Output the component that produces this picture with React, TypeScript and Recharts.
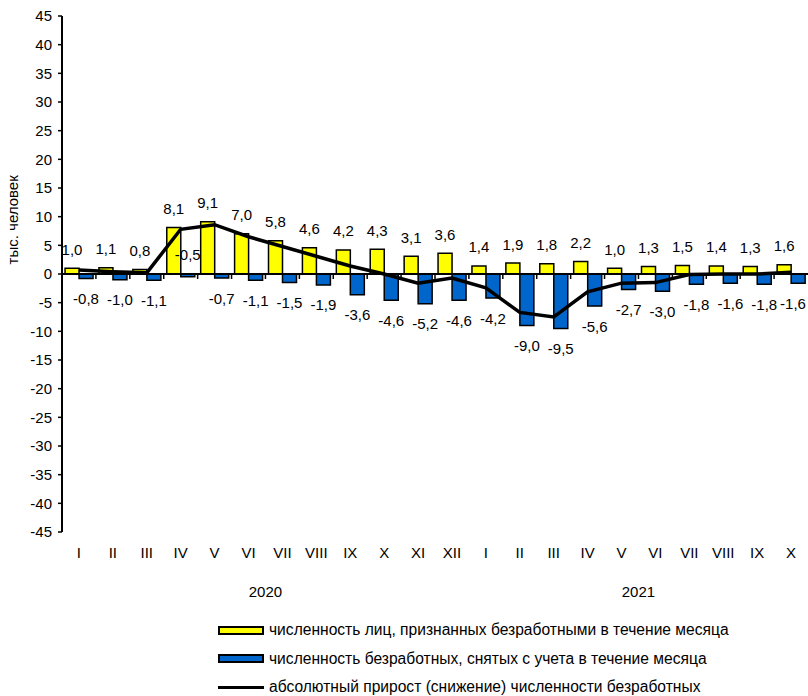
import React from 'react';
import { ComposedChart, Bar, Line, XAxis, YAxis, ReferenceLine, LabelList } from 'recharts';

const months = ['I', 'II', 'III', 'IV', 'V', 'VI', 'VII', 'VIII', 'IX', 'X', 'XI', 'XII',
  'I', 'II', 'III', 'IV', 'V', 'VI', 'VII', 'VIII', 'IX', 'X'];
const years = ['2020', '2020', '2020', '2020', '2020', '2020', '2020', '2020', '2020', '2020', '2020', '2020',
  '2021', '2021', '2021', '2021', '2021', '2021', '2021', '2021', '2021', '2021'];

// признаны безработными за месяц, тыс. чел.
const registered = [1.0, 1.1, 0.8, 8.1, 9.1, 7.0, 5.8, 4.6, 4.2, 4.3, 3.1, 3.6,
  1.4, 1.9, 1.8, 2.2, 1.0, 1.3, 1.5, 1.4, 1.3, 1.6];
const removed = [-0.8, -1.0, -1.1, -0.5, -0.7, -1.1, -1.5, -1.9, -3.6, -4.6, -5.2, -4.6,
  -4.2, -9.0, -9.5, -5.6, -2.7, -3.0, -1.8, -1.6, -1.8, -1.6];
// абсолютный прирост
const netChange = [0.7, 0.4, 0.2, 7.8, 8.6, 6.5, 4.8, 3.1, 1.4, 0.0, -1.6, -0.7,
  -2.4, -6.7, -7.5, -3.1, -1.6, -1.5, -0.1, 0.0, 0.0, 0.3];

const yTicks = [-45, -40, -35, -30, -25, -20, -15, -10, -5, 0, 5, 10, 15, 20, 25, 30, 35, 40, 45];

const legendItems = [
  { label: 'численность лиц, признанных безработными в течение месяца', kind: 'bar', color: '#FFFF00' },
  { label: 'численность безработных, снятых с учета в течение месяца', kind: 'bar', color: '#0066CC' },
  { label: 'абсолютный прирост (снижение) численности безработных', kind: 'line', color: '#000000' },
];

const FONT = "'Liberation Sans', Arial, sans-serif";
const YELLOW = '#FFFF00';
const BLUE = '#0066CC';
const CHART_W = 808;

// the -0,5 label for April 2020 sits above the axis in the original
const LIFTED = new Set([3]);

const data = months.map((m, i) => ({
  month: m,
  year: years[i],
  registered: registered[i],
  removed: removed[i],
  net: netChange[i],
}));

function fmt(v: number): string {
  return v.toFixed(1).replace('.', ',');
}

const ValueLabel = (props: any) => {
  const { value, index } = props;
  if (value === null || value === undefined) return null;
  const vb = props.viewBox && props.viewBox.width !== undefined ? props.viewBox : props;
  const x = Number(vb.x);
  const y = Number(vb.y);
  const w = Number(vb.width);
  const h = Number(vb.height);
  const top = Math.min(y, y + h);
  const bottom = Math.max(y, y + h);
  let cy: number;
  if (value >= 0) cy = top - 19;
  else if (LIFTED.has(index)) cy = top - 20;
  else cy = bottom + 20;
  // keep labels inside the picture, like Excel does at the right edge
  const cx = Math.min(x + w / 2, CHART_W - 15);
  return (
    <text x={cx} y={cy} textAnchor="middle" dominantBaseline="central"
      fontSize={15} fill="#000" fontFamily={FONT}>
      {fmt(value)}
    </text>
  );
};

// month labels at the bottom, year centred under its group
const MonthTick = (props: any) => {
  const { x, y, payload } = props;
  const idx = payload.index;
  const half = payload.offset || 0;
  const yr = years[idx];
  const first = years.indexOf(yr);
  const last = years.lastIndexOf(yr);
  const mid = (first + last) / 2;
  let yearX: number | null = null;
  if (Math.floor(mid) === idx) yearX = mid === idx ? x : x + half;
  return (
    <g>
      <text x={x} y={y + 20} textAnchor="middle" dominantBaseline="central"
        fontSize={15} fill="#000" fontFamily={FONT}>
        {payload.value}
      </text>
      {yearX !== null && (
        <text x={yearX} y={y + 59} textAnchor="middle" dominantBaseline="central"
          fontSize={15} fill="#000" fontFamily={FONT}>
          {yr}
        </text>
      )}
    </g>
  );
};

// zero line doubles as the category axis, with ticks between months
const ZeroAxis = (props: any) => {
  const x1 = Number(props.x1);
  const x2 = Number(props.x2);
  const y0 = Number(props.y1);
  const step = (x2 - x1) / months.length;
  return (
    <g>
      <line x1={x1} y1={y0} x2={x2} y2={y0} stroke="#000" strokeWidth={2} />
      {months.map((_, i) =>
        i === 0 ? null : (
          <line key={i} x1={x1 + step * i} y1={y0} x2={x1 + step * i} y2={y0 + 5}
            stroke="#000" strokeWidth={1.5} />
        )
      )}
    </g>
  );
};

const YTitle = (props: any) => {
  const vb = props.viewBox || { x: 0, y: 16, width: 62, height: 516 };
  const cx = vb.x + 13;
  const cy = vb.y + vb.height * 0.395;
  return (
    <text x={cx} y={cy} transform={`rotate(-90 ${cx} ${cy})`} textAnchor="middle"
      dominantBaseline="central" fontSize={15} fill="#000" fontFamily={FONT}>
      тыс. человек
    </text>
  );
};

function LegendBlock() {
  return (
    <div style={{ position: 'absolute', left: 218, top: 616, fontFamily: FONT, fontSize: 15.6, color: '#000', lineHeight: '18px' }}>
      {legendItems.map((it) => (
        <div key={it.label} style={{ display: 'flex', alignItems: 'center', height: 28.5 }}>
          {it.kind === 'bar' ? (
            <div style={{ width: 42, height: 5, background: it.color, border: '2px solid #000', marginRight: 5 }} />
          ) : (
            <div style={{ width: 46, height: 3, background: it.color, marginRight: 5 }} />
          )}
          <span style={{ whiteSpace: 'nowrap' }}>{it.label}</span>
        </div>
      ))}
    </div>
  );
}

export default function App() {
  return (
    <div style={{ position: 'absolute', left: 0, top: 0, width: CHART_W, height: 696, background: '#fff' }}>
      <ComposedChart width={CHART_W} height={610} data={data}
        margin={{ top: 16, right: 0, left: 0, bottom: 0 }}
        barCategoryGap="9%" barGap={0}>
        <XAxis dataKey="month" interval={0} axisLine={false} tickLine={false}
          tickSize={0} tickMargin={0} height={78} tick={<MonthTick />} />
        <YAxis domain={[-45, 45]} ticks={yTicks} interval={0} width={62}
          axisLine={{ stroke: '#000', strokeWidth: 2 }}
          tickLine={{ stroke: '#000', strokeWidth: 1.5 }} tickSize={4} tickMargin={6}
          tick={{ fontSize: 15, fill: '#000', fontFamily: FONT }}
          label={YTitle} />
        <Bar dataKey="registered" fill={YELLOW} stroke="#000" strokeWidth={1.5} isAnimationActive={false}>
          <LabelList dataKey="registered" content={<ValueLabel />} />
        </Bar>
        <Bar dataKey="removed" fill={BLUE} stroke="#000" strokeWidth={1.5} isAnimationActive={false}>
          <LabelList dataKey="removed" content={<ValueLabel />} />
        </Bar>
        <ReferenceLine y={0} shape={<ZeroAxis />} />
        <Line type="linear" dataKey="net" stroke="#000" strokeWidth={3.5} dot={false}
          activeDot={false} isAnimationActive={false} />
      </ComposedChart>
      <LegendBlock />
    </div>
  );
}
